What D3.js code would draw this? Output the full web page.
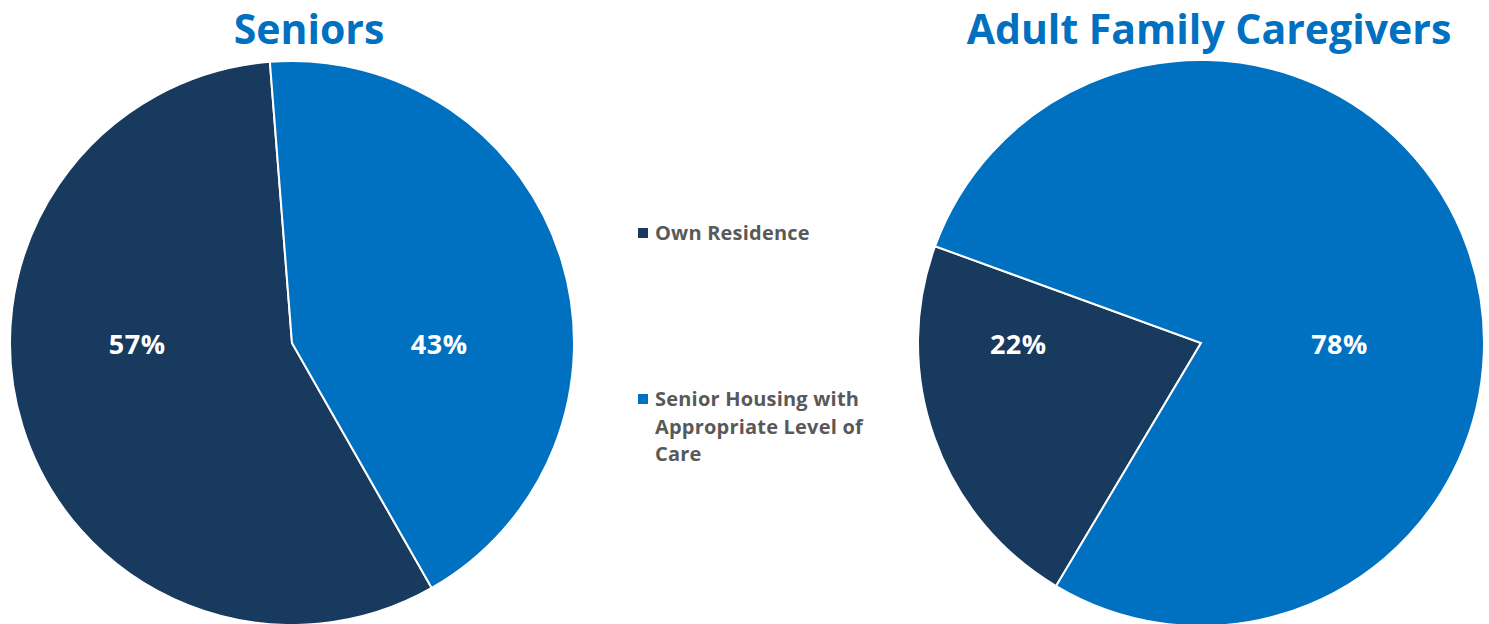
<!DOCTYPE html>
<html lang="en">
<head>
<meta charset="UTF-8">
<title>Seniors vs Adult Family Caregivers</title>
<style>
  body { margin: 0; background: #fff; }
  .title { font-family: "Open Sans", "Noto Sans", sans-serif; font-weight: 700; fill: #0070C0; font-size: 41px; }
  .pct { font-family: "Open Sans", "Noto Sans", sans-serif; font-weight: 700; fill: #fff; font-size: 27px; letter-spacing: 0.5px; }
  .legend text { font-family: "Open Sans", "Noto Sans", sans-serif; font-weight: 700; fill: #595959; font-size: 20px; letter-spacing: 0.2px; }
  .slice { stroke: #fff; stroke-width: 2; }
</style>
</head>
<body>
<script src="https://d3js.org/d3.v7.min.js"></script>
<script>
// data
var categories = ["Own Residence", "Senior Housing with Appropriate Level of Care"];
var legendLines = [["Own Residence"], ["Senior Housing with", "Appropriate Level of", "Care"]];
var seniors = [57, 43];
var caregivers = [22, 78];
var titles = ["Seniors", "Adult Family Caregivers"];

var colors = d3.scaleOrdinal().domain(categories).range(["#173A5E", "#0070C0"]);

var width = 1489, height = 624;
var svg = d3.select("body").append("svg")
    .attr("width", width)
    .attr("height", height);

// layout of each pie: centre, radius, first slice angle (deg), label distance per slice
var pies = [
  { values: seniors, title: titles[0], cx: 292, cy: 343, r: 282, start: 150.3, labelR: [162, 154], titleX: 309 },
  { values: caregivers, title: titles[1], cx: 1201, cy: 343, r: 283, start: 210.8, labelR: [194, 147], titleX: 1209 }
];

pies.forEach(function(p) {
  var pie = d3.pie().sort(null)
      .startAngle(p.start * Math.PI / 180)
      .endAngle((p.start + 360) * Math.PI / 180);
  var arcs = pie(p.values);
  var arc = d3.arc().innerRadius(0).outerRadius(p.r);

  var g = svg.append("g").attr("transform", "translate(" + p.cx + "," + p.cy + ")");

  g.selectAll("path")
    .data(arcs)
    .enter().append("path")
    .attr("class", "slice")
    .attr("fill", function(d, i) { return colors(categories[i]); })
    .attr("d", arc);

  // labels sit level with the centre, pushed along the slice's mid direction
  g.selectAll("text")
    .data(arcs)
    .enter().append("text")
    .attr("class", "pct")
    .attr("text-anchor", "middle")
    .attr("dy", "0.35em")
    .attr("x", function(d, i) {
      var mid = (d.startAngle + d.endAngle) / 2;
      return Math.sin(mid) * p.labelR[i];
    })
    .attr("y", 2)
    .text(function(d) { return d.data + "%"; });

  svg.append("text")
    .attr("class", "title")
    .attr("x", p.titleX)
    .attr("y", 44)
    .attr("text-anchor", "middle")
    .text(p.title);
});

// legend
var legend = svg.append("g").attr("class", "legend");
var legendY = [233, 399];
legendLines.forEach(function(lines, i) {
  var item = legend.append("g").attr("transform", "translate(638," + legendY[i] + ")");
  item.append("rect")
    .attr("x", 0).attr("y", -5)
    .attr("width", 10).attr("height", 10)
    .attr("fill", colors(categories[i]));
  item.selectAll("text")
    .data(lines)
    .enter().append("text")
    .attr("x", 17)
    .attr("y", function(d, j) { return j * 27.5; })
    .attr("dy", "0.35em")
    .text(function(d) { return d; });
});
</script>
</body>
</html>
